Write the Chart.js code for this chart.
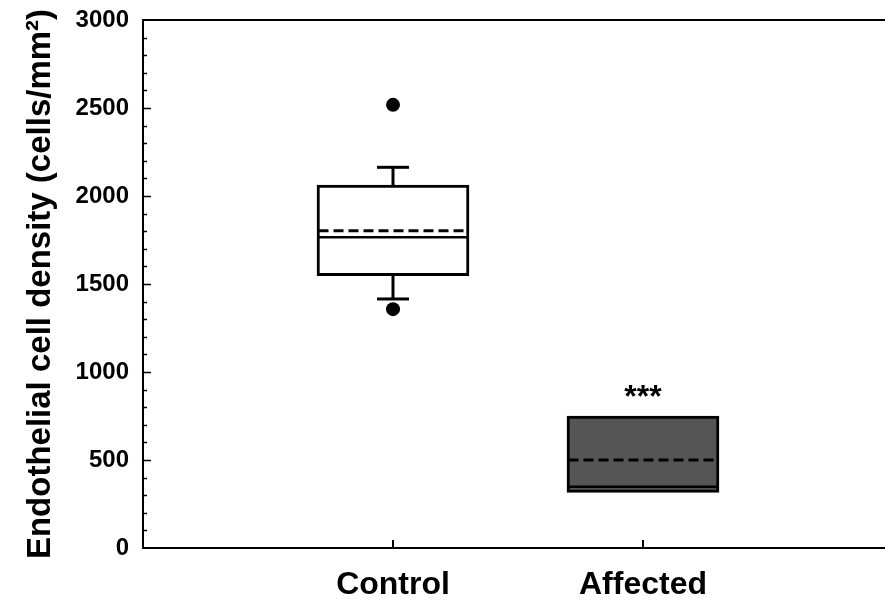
<!DOCTYPE html>
<html>
<head>
<meta charset="utf-8">
<script src="https://cdn.jsdelivr.net/npm/chart.js@4.4.1/dist/chart.umd.min.js"></script>
<style>
  html, body { margin: 0; padding: 0; background: #fff; overflow: hidden; }
  #wrap { width: 885px; height: 602px; overflow: hidden; position: relative; }
  canvas { display: block; }
</style>
</head>
<body>
<div id="wrap"><canvas id="c" width="900" height="602"></canvas></div>
<script>
// ---- data ----
const categories = ['Control', 'Affected'];
const q1 = [1548, 316];
const q3 = [2062, 750];
const medians = [1765, 348];
const means = [1803, 500];
const whiskerLow = [1415, null];
const whiskerHigh = [2163, null];
const outliersControl = [2518, 1357];
const outliersAffected = [];
const significance = ['', '***'];
const boxColors = ['#ffffff', '#555555'];
const yTickStep = 100;
const yLabelStep = 500;

const FONT = "'Liberation Sans', Arial, Helvetica, sans-serif";

const boxData = categories.map((c, i) => ({ x: i + 1, y: [q1[i], q3[i]] }));
const outlierData = [
  ...outliersControl.map(v => ({ x: 1, y: v })),
  ...outliersAffected.map(v => ({ x: 2, y: v }))
];

const boxPlugin = {
  id: 'boxExtras',
  afterDatasetsDraw(chart) {
    const ctx = chart.ctx;
    const xs = chart.scales.x, ys = chart.scales.y;
    const meta = chart.getDatasetMeta(0);
    ctx.save();
    ctx.strokeStyle = '#000';
    categories.forEach((c, i) => {
      const bar = meta.data[i];
      const cx = xs.getPixelForValue(i + 1);
      const half = bar.width / 2;
      const left = cx - half + 1.5, right = cx + half - 1.5;
      ctx.lineWidth = 3;
      ctx.setLineDash([]);
      const capHalf = 16;
      if (whiskerHigh[i] != null) {
        const yTop = ys.getPixelForValue(whiskerHigh[i]);
        const yBox = ys.getPixelForValue(q3[i]);
        ctx.beginPath(); ctx.moveTo(cx, yBox); ctx.lineTo(cx, yTop); ctx.stroke();
        ctx.beginPath(); ctx.moveTo(cx - capHalf, yTop); ctx.lineTo(cx + capHalf, yTop); ctx.stroke();
      }
      if (whiskerLow[i] != null) {
        const yBot = ys.getPixelForValue(whiskerLow[i]);
        const yBox = ys.getPixelForValue(q1[i]);
        ctx.beginPath(); ctx.moveTo(cx, yBox); ctx.lineTo(cx, yBot); ctx.stroke();
        ctx.beginPath(); ctx.moveTo(cx - capHalf, yBot); ctx.lineTo(cx + capHalf, yBot); ctx.stroke();
      }
      const ym = ys.getPixelForValue(medians[i]);
      ctx.lineWidth = 2.5;
      ctx.beginPath(); ctx.moveTo(left, ym); ctx.lineTo(right, ym); ctx.stroke();
      const ymean = ys.getPixelForValue(means[i]);
      ctx.lineWidth = 3;
      ctx.setLineDash([10, 5]);
      ctx.beginPath(); ctx.moveTo(left, ymean); ctx.lineTo(right, ymean); ctx.stroke();
      ctx.setLineDash([]);
      if (significance[i]) {
        ctx.fillStyle = '#000';
        ctx.font = "bold 32px " + FONT;
        ctx.textAlign = 'center';
        ctx.textBaseline = 'middle';
        ctx.fillText(significance[i], cx, ys.getPixelForValue(q3[i]) - 18);
      }
    });
    ctx.restore();
  },
  afterDraw(chart) {
    const ctx = chart.ctx;
    const xs = chart.scales.x, ys = chart.scales.y;
    const area = chart.chartArea;
    ctx.save();
    ctx.strokeStyle = '#000';
    ctx.lineWidth = 2;
    ctx.beginPath(); ctx.moveTo(area.left - 1, area.top); ctx.lineTo(area.right + 10, area.top); ctx.stroke();
    ctx.lineWidth = 1.5;
    for (let v = ys.min + yTickStep; v < ys.max; v += yTickStep) {
      const y = Math.round(ys.getPixelForValue(v)) + 0.5;
      const len = (v % yLabelStep === 0) ? 8 : 4;
      ctx.beginPath(); ctx.moveTo(area.left, y); ctx.lineTo(area.left + len, y); ctx.stroke();
    }
    ctx.lineWidth = 2;
    categories.forEach((c, i) => {
      const x = xs.getPixelForValue(i + 1);
      ctx.beginPath(); ctx.moveTo(x, area.bottom); ctx.lineTo(x, area.bottom - 8); ctx.stroke();
    });
    ctx.restore();
  }
};

new Chart(document.getElementById('c'), {
  type: 'bar',
  data: {
    datasets: [
      {
        type: 'bar',
        label: 'box',
        data: boxData,
        backgroundColor: boxColors,
        borderColor: '#000',
        borderWidth: 3,
        borderSkipped: false,
        barThickness: 152
      },
      {
        type: 'scatter',
        label: 'outliers',
        data: outlierData,
        pointRadius: 7,
        pointBackgroundColor: '#000',
        pointBorderColor: '#000',
        pointBorderWidth: 0
      }
    ]
  },
  options: {
    responsive: false,
    devicePixelRatio: 1,
    animation: false,
    layout: { padding: { left: 0, top: 20, right: 7, bottom: 0 } },
    plugins: { legend: { display: false }, tooltip: { enabled: false } },
    scales: {
      x: {
        type: 'linear',
        min: 0,
        max: 3,
        offset: false,
        grid: { display: false, drawTicks: false },
        border: { display: true, color: '#000', width: 2 },
        afterBuildTicks: (scale) => { scale.ticks = categories.map((c, i) => ({ value: i + 1 })); },
        afterFit: (scale) => { scale.height = 54; scale.paddingLeft = 0; scale.paddingRight = 0; },
        ticks: {
          autoSkip: false,
          maxRotation: 0,
          padding: 18,
          color: '#000',
          font: { family: FONT, size: 32, weight: 'bold' },
          callback: (v) => categories[v - 1] || ''
        }
      },
      y: {
        type: 'linear',
        min: 0,
        max: 3000,
        grid: { display: false, drawTicks: false },
        border: { display: true, color: '#000', width: 2 },
        afterFit: (scale) => { scale.width = 143; scale.paddingTop = 0; scale.paddingBottom = 0; },
        ticks: {
          stepSize: yTickStep,
          autoSkip: false,
          padding: 14,
          color: '#000',
          font: { family: FONT, size: 24, weight: 'bold' },
          callback: (v) => (v % yLabelStep === 0 ? String(v) : '')
        },
        title: {
          display: true,
          text: 'Endothelial cell density (cells/mm²)',
          color: '#000',
          padding: { top: 21, bottom: 0 },
          font: { family: FONT, size: 33, weight: 'bold' }
        }
      }
    }
  },
  plugins: [boxPlugin]
});
</script>
</body>
</html>
